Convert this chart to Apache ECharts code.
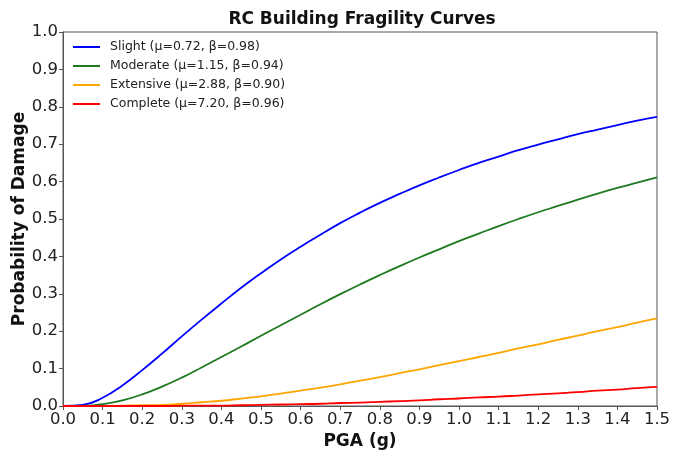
<!DOCTYPE html>
<html>
<head>
<meta charset="utf-8">
<script src="https://cdn.jsdelivr.net/npm/echarts@6/dist/echarts.min.js"></script>
<style>
  html, body { margin: 0; padding: 0; background: #fff; }
  #chart { width: 673px; height: 450px; }
</style>
</head>
<body>
<div id="chart"></div>
<script>
// Peak ground acceleration samples (g)
const pga = [0.00, 0.05, 0.10, 0.15, 0.20, 0.25, 0.30, 0.35, 0.40, 0.45, 0.50,
             0.55, 0.60, 0.65, 0.70, 0.75, 0.80, 0.85, 0.90, 0.95, 1.00,
             1.05, 1.10, 1.15, 1.20, 1.25, 1.30, 1.35, 1.40, 1.45, 1.50];

// Probability of exceeding each damage state
const slight = [0, 0.003, 0.022, 0.055, 0.096, 0.140, 0.186, 0.231, 0.274, 0.316, 0.355,
                0.392, 0.426, 0.458, 0.489, 0.517, 0.543, 0.567, 0.590, 0.611, 0.631,
                0.650, 0.667, 0.684, 0.699, 0.713, 0.727, 0.739, 0.751, 0.763, 0.773];
const moderate = [0, 0.000, 0.005, 0.015, 0.031, 0.052, 0.076, 0.103, 0.131, 0.159, 0.188,
                  0.216, 0.244, 0.272, 0.299, 0.325, 0.350, 0.374, 0.397, 0.419, 0.441,
                  0.461, 0.481, 0.500, 0.518, 0.535, 0.552, 0.568, 0.583, 0.597, 0.611];
const extensive = [0, 0, 0.000, 0.001, 0.002, 0.003, 0.006, 0.010, 0.014, 0.020, 0.026,
                   0.033, 0.041, 0.049, 0.058, 0.068, 0.077, 0.088, 0.098, 0.109, 0.120,
                   0.131, 0.142, 0.154, 0.165, 0.177, 0.188, 0.200, 0.211, 0.223, 0.234];
const complete = [0, 0, 0, 0, 0.000, 0.000, 0.001, 0.001, 0.001, 0.002, 0.003,
                  0.004, 0.005, 0.006, 0.008, 0.009, 0.011, 0.013, 0.015, 0.018, 0.020,
                  0.023, 0.025, 0.028, 0.031, 0.034, 0.037, 0.041, 0.044, 0.048, 0.051];

const seriesNames = [
  'Slight (\u03bc=0.72, \u03b2=0.98)',
  'Moderate (\u03bc=1.15, \u03b2=0.94)',
  'Extensive (\u03bc=2.88, \u03b2=0.90)',
  'Complete (\u03bc=7.20, \u03b2=0.96)'
];
const seriesColors = ['#0000ff', '#1e7a1e', '#ffa500', '#ff0000'];
const seriesValues = [slight, moderate, extensive, complete];

const font = 'DejaVu Sans';

const chart = echarts.init(document.getElementById('chart'), null, { renderer: 'canvas' });

chart.setOption({
  animation: false,
  backgroundColor: '#ffffff',
  title: {
    text: 'RC Building Fragility Curves',
    left: 357, top: 6, textAlign: 'center',
    textStyle: { fontFamily: font, fontSize: 17, fontWeight: 'bold', color: '#111' }
  },
  legend: {
    orient: 'vertical',
    left: 73, top: 40, padding: 0,
    itemWidth: 27, itemHeight: 2, itemGap: 5,
    icon: 'rect',
    textStyle: { fontFamily: font, fontSize: 12.5, lineHeight: 14, color: '#222',
                 padding: [0, 0, 0, 5] },
    data: seriesNames
  },
  grid: {
    left: 63, right: 16, top: 32, bottom: 44,
    outerBoundsMode: 'none',
    show: true, borderColor: '#555', borderWidth: 1
  },
  xAxis: {
    type: 'value', min: 0, max: 1.5, interval: 0.1,
    name: 'PGA (g)', nameLocation: 'middle', nameGap: 24,
    nameTextStyle: { fontFamily: font, fontSize: 17, fontWeight: 'bold', color: '#111' },
    axisLine: { show: true, lineStyle: { color: '#555' } },
    axisTick: { show: true, length: 4, lineStyle: { color: '#555' } },
    axisLabel: { fontFamily: font, fontSize: 16.5, color: '#222', margin: 5,
                 formatter: v => v.toFixed(1) },
    splitLine: { show: false }
  },
  yAxis: {
    type: 'value', min: 0, max: 1, interval: 0.1,
    name: 'Probability of Damage', nameLocation: 'middle', nameGap: 35,
    nameMoveOverlap: false,
    nameTextStyle: { fontFamily: font, fontSize: 17, fontWeight: 'bold', color: '#111' },
    axisLine: { show: true, lineStyle: { color: '#555' } },
    axisTick: { show: true, length: 4, lineStyle: { color: '#555' } },
    axisLabel: { fontFamily: font, fontSize: 16.5, color: '#222', margin: 5,
                 formatter: v => v.toFixed(1) },
    splitLine: { show: false }
  },
  series: seriesNames.map((name, i) => ({
    name,
    type: 'line',
    smooth: true,
    showSymbol: false,
    color: seriesColors[i],
    lineStyle: { width: 1.8, color: seriesColors[i] },
    data: pga.map((x, j) => [x, seriesValues[i][j]])
  }))
});
</script>
</body>
</html>
